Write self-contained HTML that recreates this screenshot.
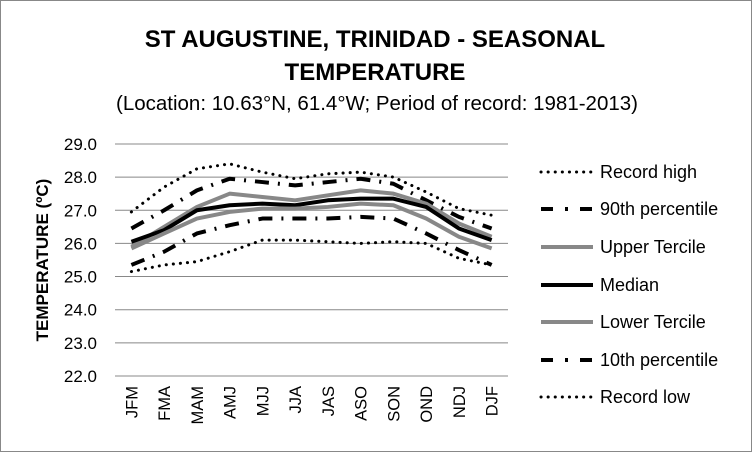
<!DOCTYPE html>
<html><head><meta charset="utf-8"><style>
body{margin:0;background:#fff}
svg{display:block;font-family:"Liberation Sans",Arial,sans-serif}
</style></head><body>
<svg id="s" width="752" height="452" viewBox="0 0 752 452" xmlns="http://www.w3.org/2000/svg">
<rect x="0.5" y="0.5" width="751" height="451" fill="#fff" stroke="#888"/>
<text x="375" y="47" font-size="24" font-weight="bold" text-anchor="middle">ST AUGUSTINE, TRINIDAD - SEASONAL</text>
<text x="375" y="80" font-size="24" font-weight="bold" text-anchor="middle">TEMPERATURE</text>
<text x="377" y="110" font-size="20.5" text-anchor="middle">(Location: 10.63°N, 61.4°W; Period of record: 1981-2013)</text>
<g id="grid" stroke="#888" stroke-width="1"></g>
<g id="ylab" font-size="17" text-anchor="end"></g>
<g id="xlab" font-size="16.5" text-anchor="end"></g>
<text transform="translate(48,260) rotate(-90)" font-size="17" font-weight="bold" text-anchor="middle">TEMPERATURE (ºC)</text>
<g id="ser" fill="none" stroke-linejoin="round"></g>
<g id="leg" font-size="18"></g>
</svg>
<script>
var ns="http://www.w3.org/2000/svg";
function el(p,t,a,txt){var e=document.createElementNS(ns,t);for(var k in a)e.setAttribute(k,a[k]);if(txt)e.textContent=txt;document.getElementById(p).appendChild(e);}
function Y(v){return 376-(v-22)*33.15;}
for(var i=0;i<=7;i++){var y=Y(22+i);el('grid','line',{x1:115,x2:508,y1:y,y2:y});el('ylab','text',{x:97,y:y+6},(22+i).toFixed(1));}
var cats=["JFM","FMA","MAM","AMJ","MJJ","JJA","JAS","ASO","SON","OND","NDJ","DJF"];
function X(i){return 131.4+i*32.75;}
cats.forEach(function(c,i){el('xlab','text',{transform:"translate("+(X(i)+6)+",386) rotate(-90)"},c);});
var S=[
["Record high",[26.95,27.7,28.25,28.4,28.15,27.95,28.1,28.15,28.0,27.55,27.05,26.85],{stroke:"#000","stroke-width":3,"stroke-dasharray":"0.1 7","stroke-linecap":"round"}],
["90th percentile",[26.45,27.0,27.6,27.95,27.85,27.75,27.85,27.95,27.8,27.3,26.8,26.45],{stroke:"#000","stroke-width":4,"stroke-dasharray":"14 9 2 9"}],
["Upper Tercile",[25.9,26.5,27.1,27.5,27.4,27.3,27.45,27.6,27.5,27.2,26.6,26.2],{stroke:"#888","stroke-width":4}],
["Median",[26.05,26.4,27.0,27.15,27.2,27.15,27.3,27.35,27.35,27.1,26.45,26.1],{stroke:"#000","stroke-width":4}],
["Lower Tercile",[25.85,26.3,26.75,26.95,27.05,27.05,27.1,27.2,27.15,26.75,26.2,25.85],{stroke:"#888","stroke-width":4}],
["10th percentile",[25.35,25.75,26.3,26.55,26.75,26.75,26.75,26.8,26.75,26.3,25.8,25.35],{stroke:"#000","stroke-width":4,"stroke-dasharray":"14 9 2 9"}],
["Record low",[25.15,25.35,25.45,25.75,26.1,26.1,26.05,26.0,26.05,26.0,25.55,25.35],{stroke:"#000","stroke-width":3,"stroke-dasharray":"0.1 7","stroke-linecap":"round"}]
];
var ly=[172,209,247,285,322,360,397];
S.forEach(function(s,k){
 var a=Object.assign({},s[2]);a.points=s[1].map(function(v,i){return X(i)+","+Y(v)}).join(" ");el('ser','polyline',a);
 var b=Object.assign({},s[2]);b.x1=541;b.x2=593;b.y1=ly[k];b.y2=ly[k];
 if(s[2]["stroke-dasharray"]=="14 9 2 9"){b["stroke-dasharray"]="12 12 3 12";}
 el('ser','line',b);
 el('leg','text',{x:600,y:ly[k]+6},s[0]);
});
</script>
</body></html>
